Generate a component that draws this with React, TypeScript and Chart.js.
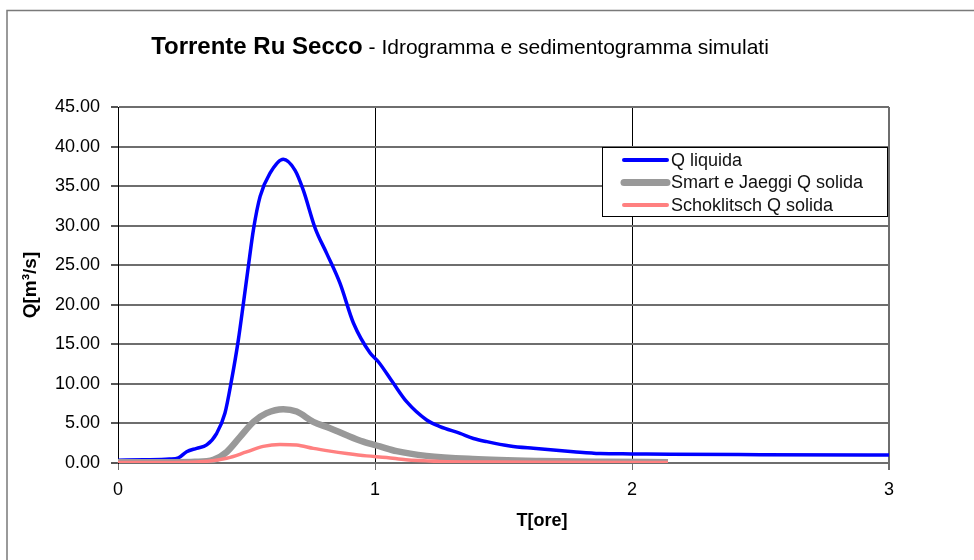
import React, { useEffect, useRef } from "react";
import { Chart, registerables } from "chart.js";

Chart.register(...registerables);

// ---- data ----
const titleBold = "Torrente Ru Secco";
const titleRest = " - Idrogramma e sedimentogramma simulati";
const xTitle = "T[ore]";
const yTitle = "Q[m³/s]";
const seriesLabels = ["Q liquida", "Smart e Jaeggi Q solida", "Schoklitsch Q solida"];

const tLiquida = [0, 0.1, 0.2, 0.235, 0.267, 0.306, 0.345, 0.384, 0.416, 0.442, 0.468, 0.488, 0.507, 0.527, 0.553, 0.591, 0.643, 0.689, 0.721, 0.767, 0.812, 0.864, 0.916, 0.981, 1.013, 1.071, 1.123, 1.201, 1.253, 1.331, 1.383, 1.435, 1.525, 1.616, 1.772, 1.875, 2.0, 2.148, 2.5, 3.0];
const qLiquida = [0.35, 0.4, 0.5, 0.65, 1.43, 1.86, 2.28, 3.75, 6.28, 10.5, 15.5, 20.2, 24.8, 29.5, 33.7, 36.6, 38.4, 37.0, 34.5, 29.7, 26.5, 22.7, 17.7, 13.9, 12.8, 10.1, 7.75, 5.44, 4.6, 3.75, 3.1, 2.7, 2.15, 1.85, 1.43, 1.2, 1.15, 1.1, 1.05, 1.0];

const tSmart = [0, 0.2, 0.3, 0.371, 0.423, 0.475, 0.527, 0.578, 0.643, 0.695, 0.76, 0.825, 0.89, 0.954, 1.019, 1.084, 1.2, 1.38, 1.64, 1.9, 2.14];
const qSmart = [0.08, 0.1, 0.15, 0.4, 1.4, 3.3, 5.2, 6.3, 6.8, 6.5, 5.2, 4.4, 3.5, 2.7, 2.1, 1.5, 0.9, 0.5, 0.25, 0.15, 0.1];

const tSchok = [0, 0.2, 0.32, 0.423, 0.5, 0.565, 0.63, 0.695, 0.76, 0.825, 0.89, 0.967, 1.045, 1.12, 1.25, 1.45, 1.7, 2.14];
const qSchok = [0.05, 0.07, 0.15, 0.6, 1.4, 2.1, 2.35, 2.28, 1.85, 1.5, 1.2, 0.9, 0.7, 0.4, 0.2, 0.12, 0.08, 0.05];

const yMin = 0;
const yMax = 45;
const yStep = 5;
const xMin = 0;
const xMax = 3;
const xStep = 1;

const FONT = "'Liberation Sans', Arial, sans-serif";

const zip = (xs: number[], ys: number[]) => xs.map((x, i) => ({ x, y: ys[i] }));

const framePlugin = {
  id: "frame",
  beforeDraw(chart: any) {
    const ctx = chart.ctx;
    ctx.save();
    ctx.fillStyle = "#ffffff";
    ctx.fillRect(0, 0, chart.width, chart.height);
    ctx.strokeStyle = "#7a7a7a";
    ctx.lineWidth = 1.5;
    ctx.beginPath();
    ctx.moveTo(7, chart.height + 5);
    ctx.lineTo(7, 10.5);
    ctx.lineTo(chart.width + 5, 10.5);
    ctx.stroke();
    ctx.restore();
  },
};

const textPlugin = {
  id: "texts",
  afterDraw(chart: any) {
    const ctx = chart.ctx;
    ctx.save();
    // chart title (mixed fonts)
    const boldFont = `bold 24px ${FONT}`;
    const regFont = `21px ${FONT}`;
    ctx.font = boldFont;
    const w1 = ctx.measureText(titleBold).width;
    ctx.font = regFont;
    const w2 = ctx.measureText(titleRest).width;
    const startX = 460 - (w1 + w2) / 2;
    ctx.fillStyle = "#000";
    ctx.textBaseline = "middle";
    ctx.textAlign = "left";
    ctx.font = boldFont;
    ctx.fillText(titleBold, startX, 47);
    ctx.font = regFont;
    ctx.fillText(titleRest, startX + w1, 48);

    // x axis title
    ctx.font = `bold 18px ${FONT}`;
    ctx.textAlign = "center";
    ctx.fillText(xTitle, 542, 521);

    // legend
    const lx = 602, ly = 147, lw = 285, lh = 69;
    ctx.fillStyle = "#fff";
    ctx.fillRect(lx, ly, lw, lh);
    ctx.strokeStyle = "#000";
    ctx.lineWidth = 1;
    ctx.strokeRect(lx + 0.5, ly + 0.5, lw, lh);
    const rows = [160, 182.5, 205];
    chart.data.datasets.forEach((ds: any, i: number) => {
      const y = rows[i];
      ctx.strokeStyle = ds.borderColor;
      ctx.lineWidth = ds.legendWidth;
      ctx.lineCap = "round";
      ctx.beginPath();
      ctx.moveTo(624, y);
      ctx.lineTo(667, y);
      ctx.stroke();
      ctx.fillStyle = "#111";
      ctx.font = `18px ${FONT}`;
      ctx.textAlign = "left";
      ctx.textBaseline = "middle";
      ctx.fillText(ds.label, 671, y + 1);
    });
    ctx.restore();
  },
};

export default function App() {
  const ref = useRef<HTMLCanvasElement>(null);

  useEffect(() => {
    document.body.style.margin = "0";
    const canvas = ref.current!;
    const chart = new Chart(canvas, {
      type: "line",
      data: {
        datasets: [
          {
            label: seriesLabels[0],
            data: zip(tLiquida, qLiquida),
            borderColor: "#0000ff",
            borderWidth: 3.5,
            legendWidth: 4,
            pointRadius: 0,
            cubicInterpolationMode: "monotone",
            order: 2,
          } as any,
          {
            label: seriesLabels[1],
            data: zip(tSmart, qSmart),
            borderColor: "#999999",
            borderWidth: 6.5,
            legendWidth: 7,
            pointRadius: 0,
            cubicInterpolationMode: "monotone",
            order: 1,
          } as any,
          {
            label: seriesLabels[2],
            data: zip(tSchok, qSchok),
            borderColor: "#ff8080",
            borderWidth: 3.5,
            legendWidth: 4,
            pointRadius: 0,
            cubicInterpolationMode: "monotone",
            order: 0,
          } as any,
        ],
      },
      options: {
        responsive: false,
        animation: false,
        devicePixelRatio: 1,
        layout: { padding: { top: 107, right: 85, left: 0, bottom: 0 } },
        plugins: {
          legend: { display: false },
          title: { display: false },
          tooltip: { enabled: false },
        },
        scales: {
          x: {
            type: "linear",
            min: xMin,
            max: xMax,
            afterFit(scale: any) {
              scale.height = 97;
            },
            ticks: {
              stepSize: xStep,
              color: "#000",
              font: { family: FONT, size: 18 },
              padding: 9,
              maxRotation: 0,
              callback: (v: any) => String(v),
            },
            grid: {
              color: (c: any) => (c.index === 3 ? "#6e6e6e" : "#000000"),
              lineWidth: (c: any) => (c.index === 3 ? 2 : 1),
              tickColor: "#6e6e6e",
              tickLength: 7,
            },
            border: { display: true, color: "#6e6e6e", width: 2 },
          },
          y: {
            type: "linear",
            min: yMin,
            max: yMax,
            afterFit(scale: any) {
              scale.width = 118;
            },
            ticks: {
              stepSize: yStep,
              color: "#000",
              font: { family: FONT, size: 18 },
              padding: 11,
              callback: (v: any) => Number(v).toFixed(2),
            },
            grid: {
              color: "#6e6e6e",
              lineWidth: 2,
              tickColor: "#555555",
              tickLength: 7,
            },
            border: { display: true, color: "#000000", width: 1 },
            title: {
              display: true,
              text: yTitle,
              color: "#000",
              font: { family: FONT, size: 19, weight: "bold" },
              padding: { top: 19, bottom: 0 },
            },
          },
        },
      },
      plugins: [framePlugin, textPlugin],
    } as any);
    return () => chart.destroy();
  }, []);

  return (
    <div style={{ position: "absolute", left: 0, top: 0, width: 974, height: 560, background: "#fff" }}>
      <canvas ref={ref} width={974} height={560} style={{ display: "block", width: 974, height: 560 }} />
    </div>
  );
}
